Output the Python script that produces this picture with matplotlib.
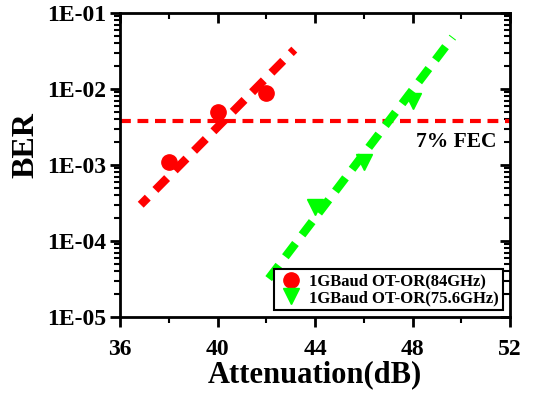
import matplotlib
matplotlib.use("Agg")
import matplotlib.pyplot as plt
import numpy as np
from matplotlib.ticker import FixedLocator, LogLocator, NullFormatter

plt.rcParams['font.family'] = ['Liberation Serif', 'DejaVu Serif']
plt.rcParams['font.weight'] = 'bold'

# data
red_x = [38, 40, 42]
red_ber = [1.1e-3, 5.0e-3, 8.8e-3]
green_x = [44, 46, 48]
green_ber = [2.8e-4, 1.1e-3, 7.0e-3]
red_fit_x = [36.85, 43.15]
red_fit_ber = [3.0e-4, 3.3e-2]
green_fit_x = [42.1, 49.65]
green_fit_ber = [3.2e-5, 4.8e-2]
fec_level = 3.8e-3
labels = ['1GBaud OT-OR(84GHz)', '1GBaud OT-OR(75.6GHz)']
xticks = [36, 40, 44, 48, 52]
yticks = [1e-5, 1e-4, 1e-3, 1e-2, 1e-1]
ytick_labels = ['1E-05', '1E-04', '1E-03', '1E-02', '1E-01']

fig = plt.figure(figsize=(5.45, 3.95), dpi=100)
ax = fig.add_axes([120/545, 1-317/395, 390/545, 304/395])

ax.plot(red_fit_x, red_fit_ber, color='#ff0000', lw=6, linestyle=(0.8, (2.0, 1.3)), dash_capstyle='butt', zorder=2)
ax.plot(green_fit_x, green_fit_ber, color='#00ff00', lw=6, linestyle=(0, (2.0, 1.3)), dash_capstyle='butt', zorder=2)
ax.axhline(fec_level, color='#ff0000', lw=3, linestyle=(0, (2.6, 1.6)), zorder=1)

ax.plot(red_x, red_ber, 'o', color='#ff0000', ms=11, label=labels[0], zorder=3)
ax.plot(green_x, green_ber, 'v', color='#00ff00', ms=12, label=labels[1], zorder=3)

ax.text(49.8, 2.0e-3, '7% FEC', fontsize=15.5, fontweight='bold', ha='center', va='center')

ax.set_yscale('log')
ax.set_xlim(36, 52)
ax.set_ylim(1e-5, 1e-1)
ax.set_xticks(xticks)
ax.set_xticklabels([str(v) for v in xticks])
ax.xaxis.set_minor_locator(FixedLocator([38, 42, 46, 50]))
ax.set_yticks(yticks)
ax.set_yticklabels(ytick_labels)
ax.yaxis.set_minor_locator(LogLocator(base=10, subs=np.arange(2, 10)))
ax.yaxis.set_minor_formatter(NullFormatter())

for lab in ax.get_xticklabels() + ax.get_yticklabels():
    lab.set_fontsize(17)
    lab.set_fontweight('bold')

ax.tick_params(which='major', direction='out', length=7, width=2, pad=3)
ax.tick_params(axis='x', which='major', pad=9)
ax.tick_params(which='minor', direction='out', length=4, width=1.5)
for s in ax.spines.values():
    s.set_linewidth(2)

# mirrored inward ticks on top/right
ax2 = ax.secondary_xaxis('top')
ax2.set_xticks(xticks)
ax2.xaxis.set_minor_locator(FixedLocator([38, 42, 46, 50]))
ax2.tick_params(which='major', direction='in', length=7, width=2, labeltop=False)
ax2.tick_params(which='minor', direction='in', length=4, width=1.5)
ax2.set_xticklabels([])
ax3 = ax.secondary_yaxis('right')
ax3.set_yticks(yticks)
ax3.yaxis.set_minor_locator(LogLocator(base=10, subs=np.arange(2, 10)))
ax3.yaxis.set_minor_formatter(NullFormatter())
ax3.tick_params(which='major', direction='in', length=7, width=2)
ax3.tick_params(which='minor', direction='in', length=4, width=1.5)
ax3.set_yticklabels([])

ax.set_xlabel('Attenuation(dB)', fontsize=22, fontweight='bold', labelpad=0)
ax.set_ylabel('BER', fontsize=23, fontweight='bold')
ax.yaxis.set_label_coords(-0.205, 0.566)

leg = ax.legend(loc='lower right', fontsize=12, frameon=True, fancybox=False,
                edgecolor='black', framealpha=1, borderpad=0.25, handletextpad=0.3,
                labelspacing=0.05, borderaxespad=0.4, handlelength=1.6)
leg.get_frame().set_linewidth(1.5)
for t in leg.get_texts():
    t.set_fontweight('bold')

fig.savefig('out.png', dpi=100)
